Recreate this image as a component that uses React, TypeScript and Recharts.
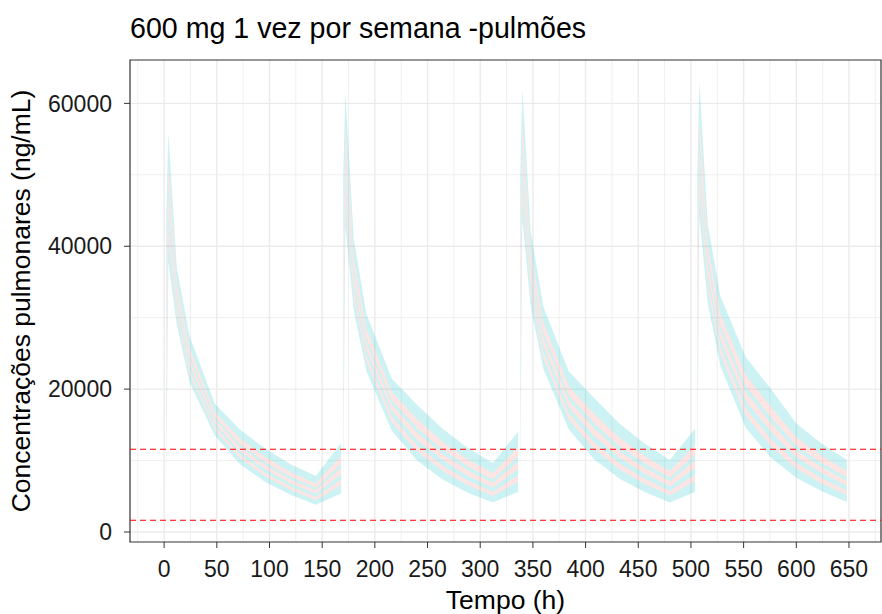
import { Area, CartesianGrid, ComposedChart, ReferenceArea, ReferenceLine, XAxis, YAxis } from "recharts";

// sampling times (h); 169, 337 and 505 are breaks between the weekly doses
const hours = [
  2, 4, 12, 24, 48, 72, 96, 120, 144, 168, 169,
  170, 172, 180, 192, 216, 240, 264, 288, 312, 336, 337,
  338, 340, 348, 360, 384, 408, 432, 456, 480, 504, 505,
  506, 508, 516, 528, 552, 576, 600, 624, 648,
];

// band edges, lowest (b0) to highest (b7), ng/mL
const b0 = [
  6000, 37800, 29000, 21000, 13500, 9500, 7000, 5200, 3800, 5400, null,
  6500, 42800, 31000, 22500, 14200, 10000, 7400, 5500, 4120, 5620, null,
  6500, 43700, 31500, 22800, 14400, 10200, 7500, 5600, 4120, 5620, null,
  6500, 44200, 32000, 23200, 14600, 10400, 7600, 5700, 4210,
];
const b1 = [
  12460, 40880, 30360, 22110, 14270, 10320, 7800, 5930, 4490, 6610, null,
  13900, 46000, 32700, 23860, 15440, 11330, 8610, 6570, 5060, 7050, null,
  13900, 46810, 33290, 24280, 15780, 11660, 8810, 6760, 5130, 7130, null,
  13900, 47410, 33870, 24870, 16280, 12030, 8890, 6840, 5210,
];
const b2 = [
  16260, 42690, 31160, 22760, 14720, 10800, 8270, 6360, 4890, 7320, null,
  18250, 47880, 33700, 24660, 16170, 12110, 9320, 7200, 5610, 7900, null,
  18250, 48640, 34340, 25150, 16590, 12520, 9580, 7440, 5730, 8020, null,
  18250, 49300, 34970, 25850, 17270, 12990, 9650, 7510, 5790,
];
const b3 = [
  20440, 44680, 32040, 23470, 15210, 11320, 8790, 6830, 5340, 8100, null,
  23030, 49940, 34800, 25540, 16970, 12960, 10100, 7890, 6220, 8820, null,
  23030, 50650, 35490, 26110, 17480, 13470, 10430, 8180, 6380, 8990, null,
  23030, 51380, 36180, 26920, 18360, 14050, 10490, 8250, 6440,
];
const b4 = [
  25000, 46850, 33000, 24250, 15750, 11900, 9350, 7350, 5830, 8950, null,
  28250, 52200, 36000, 26500, 17850, 13900, 10950, 8650, 6890, 9840, null,
  28250, 52850, 36750, 27150, 18450, 14500, 11350, 9000, 7100, 10060, null,
  28250, 53650, 37500, 28100, 19550, 15200, 11400, 9050, 7140,
];
const b5 = [
  28420, 48480, 33720, 24840, 16160, 12330, 9770, 7740, 6190, 9590, null,
  32170, 53890, 36900, 27220, 18510, 14600, 11590, 9220, 7380, 10590, null,
  32170, 54500, 37700, 27930, 19180, 15270, 12040, 9610, 7630, 10860, null,
  32170, 55350, 38490, 28980, 20440, 16060, 12080, 9650, 7670,
];
const b6 = [
  34120, 51190, 34920, 25810, 16830, 13050, 10480, 8380, 6800, 10650, null,
  38690, 56710, 38400, 28420, 19600, 15770, 12650, 10160, 8210, 11860, null,
  38690, 57240, 39270, 29240, 20390, 16560, 13200, 10630, 8520, 12190, null,
  38690, 58190, 40140, 30450, 21930, 17500, 13220, 10660, 8550,
];
const b7 = [
  44000, 55900, 37000, 27500, 18000, 14300, 11700, 9500, 7850, 12500, null,
  50000, 61600, 41000, 30500, 21500, 17800, 14500, 11800, 9650, 14050, null,
  50000, 62000, 42000, 31500, 22500, 18800, 15200, 12400, 10070, 14500, null,
  50000, 63100, 43000, 33000, 24500, 20000, 15200, 12400, 10070,
];

const edges = [b0, b1, b2, b3, b4, b5, b6, b7];
const thresholds = [11580, 1650];

const xTicks = [0, 50, 100, 150, 200, 250, 300, 350, 400, 450, 500, 550, 600, 650];
const xMinor = [-25, 25, 75, 125, 175, 225, 275, 325, 375, 425, 475, 525, 575, 625, 675];
const yTicks = [0, 20000, 40000, 60000];
const yMinor = [10000, 30000, 50000];

const data = hours.map((h, i) => {
  const row: Record<string, number | null> = { h };
  edges.forEach((e, k) => (row["b" + k] = e[i]));
  return row;
});

const font = "'Liberation Sans', Arial, Helvetica, sans-serif";
const xDomain = [-32.4, 680.4];
const yDomain = [-1400, 66070];

export default function App() {
  return (
    <div style={{ position: "fixed", left: 0, top: 0, width: 882, height: 614, background: "#fff", fontFamily: font }}>
      <div style={{ position: "absolute", left: 130, top: 12, fontSize: 28.6, lineHeight: "32px", color: "#000" }}>
        600 mg 1 vez por semana -pulmões
      </div>
      <ComposedChart width={882} height={614} data={data} margin={{ top: 60, right: 1, left: 0, bottom: 0 }}>
        <CartesianGrid verticalValues={xMinor} horizontalValues={yMinor} stroke="#EBEBEB" strokeWidth={0.8} />
        <CartesianGrid verticalValues={xTicks} horizontalValues={yTicks} stroke="#EBEBEB" strokeWidth={1.4} />
        <XAxis
          type="number"
          dataKey="h"
          domain={xDomain}
          ticks={xTicks}
          allowDataOverflow
          height={72}
          axisLine={false}
          tickSize={6}
          tickMargin={13}
          tickLine={{ stroke: "#333333" }}
          tick={{ fill: "#1a1a1a", fontSize: 23, fontFamily: font }}
          label={{ value: "Tempo (h)", position: "insideBottom", offset: 5, fill: "#000", fontSize: 26.5, fontFamily: font }}
        />
        <YAxis
          type="number"
          domain={yDomain}
          ticks={yTicks}
          allowDataOverflow
          width={130}
          axisLine={false}
          tickSize={6}
          tickMargin={12}
          tickLine={{ stroke: "#333333" }}
          tick={{ fill: "#1a1a1a", fontSize: 23, fontFamily: font }}
          label={{
            value: "Concentrações pulmonares (ng/mL)",
            angle: -90,
            position: "insideLeft",
            dx: 16,
            fill: "#000",
            fontSize: 26.5,
            fontFamily: font,
            style: { textAnchor: "middle" },
          }}
        />
        {edges.slice(0, 7).map((_, k) => (
          <Area
            key={k}
            type="linear"
            dataKey={(d: any) => (d["b" + k] == null ? null : [d["b" + k], d["b" + (k + 1)]])}
            fill={k % 2 === 0 ? "#00BFC4" : "#F8766D"}
            fillOpacity={0.2}
            stroke="none"
            dot={false}
            activeDot={false}
            isAnimationActive={false}
          />
        ))}
        {thresholds.map((v) => (
          <ReferenceLine key={v} y={v} stroke="#FF0000" strokeWidth={1.1} strokeDasharray="6 4" />
        ))}
        <ReferenceArea x1={xDomain[0]} x2={xDomain[1]} y1={yDomain[0]} y2={yDomain[1]} fill="none" stroke="#333333" strokeWidth={1.2} />
      </ComposedChart>
    </div>
  );
}
